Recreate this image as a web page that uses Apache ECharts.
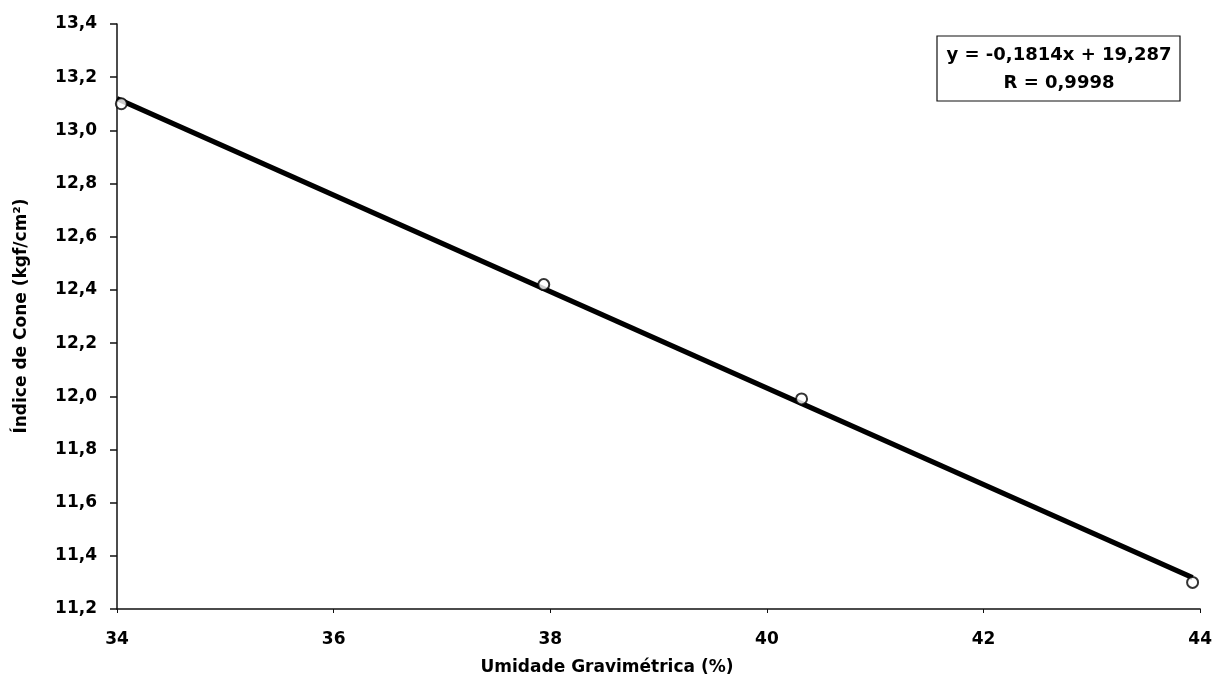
<!DOCTYPE html>
<html>
<head>
<meta charset="utf-8">
<script src="https://cdn.jsdelivr.net/npm/echarts@6/dist/echarts.min.js"></script>
<style>
  html, body { margin: 0; padding: 0; background: #fff; }
  #chart { width: 1215px; height: 690px; }
</style>
</head>
<body>
<div id="chart"></div>
<script>
// Measured points: moisture (%) vs cone index (kgf/cm²)
const umidade = [34.04, 37.94, 40.32, 43.93];
const indiceCone = [13.10, 12.42, 11.99, 11.30];

// Linear fit reported in the legend box
const slope = -0.1814;
const intercept = 19.287;
const rValue = '0,9998';

const xTicks = { min: 34, max: 44, interval: 2 };
const yTicks = { min: 11.2, max: 13.4, interval: 0.2 };

const fmt = (v, d) => v.toFixed(d).replace('.', ',');
const font = '"DejaVu Sans", "Liberation Sans", Arial, sans-serif';

const points = umidade.map((x, i) => [x, indiceCone[i]]);
const fitStart = xTicks.min;
const fitEnd = umidade[umidade.length - 1];
const fitLine = [fitStart, fitEnd].map(x => [x, slope * x + intercept]);

const chart = echarts.init(document.getElementById('chart'));
chart.setOption({
  backgroundColor: '#ffffff',
  animation: false,
  grid: { left: 117, right: 8, top: 24, bottom: 81 },
  xAxis: {
    type: 'value',
    min: xTicks.min, max: xTicks.max, interval: xTicks.interval,
    axisLine: { show: true, lineStyle: { color: '#111', width: 1.5 } },
    axisTick: { show: true, length: 4, lineStyle: { color: '#111', width: 1 } },
    axisLabel: { color: '#000', fontFamily: font, fontWeight: 'bold', fontSize: 17, margin: 22,
                 formatter: v => String(v) },
    splitLine: { show: false }
  },
  yAxis: {
    type: 'value',
    min: yTicks.min, max: yTicks.max, interval: yTicks.interval,
    axisLine: { show: true, lineStyle: { color: '#111', width: 1.5 } },
    axisTick: { show: true, length: 7, lineStyle: { color: '#111', width: 1.5 } },
    axisLabel: { color: '#000', fontFamily: font, fontWeight: 'bold', fontSize: 17, margin: 20,
                 formatter: v => fmt(v, 1) },
    splitLine: { show: false }
  },
  graphic: [
    {
      type: 'text', x: 607, y: 668,
      style: { text: 'Umidade Gravimétrica (%)', fill: '#000', font: 'bold 17px ' + font,
               align: 'center', verticalAlign: 'middle' }
    },
    {
      type: 'text', rotation: Math.PI / 2, x: 22, y: 316,
      style: { text: 'Índice de Cone (kgf/cm²)', fill: '#000', font: 'bold 17px ' + font,
               align: 'center', verticalAlign: 'middle' }
    },
    {
      type: 'rect', shape: { x: 937, y: 36, width: 243, height: 65 },
      style: { fill: '#fff', stroke: '#111', lineWidth: 1.2 }
    },
    {
      type: 'text', x: 1059, y: 55,
      style: { text: 'y = ' + fmt(slope, 4) + 'x + ' + fmt(intercept, 3), fill: '#000',
               font: 'bold 18px ' + font, align: 'center', verticalAlign: 'middle' }
    },
    {
      type: 'text', x: 1059, y: 83,
      style: { text: 'R = ' + rValue, fill: '#000',
               font: 'bold 18px ' + font, align: 'center', verticalAlign: 'middle' }
    }
  ],
  series: [
    {
      type: 'line', data: fitLine, symbol: 'none', z: 2,
      lineStyle: { color: '#000', width: 5 }
    },
    {
      type: 'scatter', data: points, symbol: 'circle', symbolSize: 11, z: 3,
      itemStyle: { color: '#fff', borderColor: '#000', borderWidth: 2 }
    }
  ]
});
</script>
</body>
</html>
